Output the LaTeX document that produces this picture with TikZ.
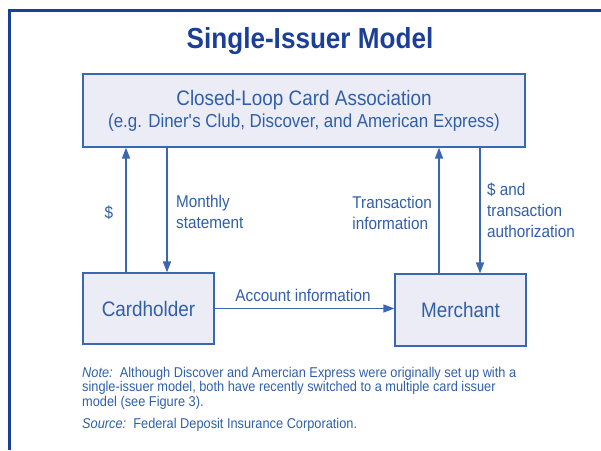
\documentclass[tikz,border=0pt]{standalone}
\usepackage{fontspec}
\setmainfont{Liberation Sans}[FakeStretch=0.9]
\usetikzlibrary{arrows.meta}

\definecolor{frameblue}{HTML}{1B3F98}
\definecolor{textblue}{HTML}{2F5FA9}
\definecolor{lineblue}{HTML}{3A68B0}
\definecolor{boxfill}{HTML}{ECECF6}

\tikzset{
    box/.style={draw=lineblue, fill=boxfill, line width=1.2pt, text=textblue, align=center, inner sep=0pt},
    flow/.style={-{Triangle[length=11pt,width=8pt]}, draw=lineblue, line width=1.5pt},
    lbl/.style={text=textblue, align=left, inner sep=0pt, font=\fontsize{17}{21}\selectfont},
    small/.style={font=\fontsize{14.2}{14.5}\selectfont},
}

\begin{document}
\begin{tikzpicture}[x=1pt, y=-1pt]
\useasboundingbox (0,0) rectangle (601,450);
%\draw[help lines] (0,0) grid[step=50] (601,450);
\begin{scope}
    % frame
    \draw [frameblue, line width=3pt] (9.5,450) -- (9.5,10.5) -- (601,10.5);
    \node [anchor=base, inner sep=0pt, text=frameblue, font=\bfseries\fontsize{29}{32}\selectfont] (title) at (310,48)
        {Single-Issuer Model};

    \node [box, minimum width=442pt, minimum height=73pt, font=\fontsize{18.8}{22}\selectfont] (assoc) at (304,110.5)
        {{\fontsize{21}{22}\selectfont Closed-Loop Card Association}\\(e.g. Diner\textquotesingle s Club, Discover, and American Express)};
    \node [box, minimum width=131pt, minimum height=71pt, font=\fontsize{21}{24}\selectfont] (card) at (148.5,308.5) {Cardholder};
    \node [box, minimum width=131pt, minimum height=72pt, font=\fontsize{21}{24}\selectfont] (merch) at (460.5,310) {Merchant};

    % money and paper flows
    \path ([xshift=-22.5pt]card.north) edge [flow] ([xshift=-22.5pt]card.north |- assoc.south);
    \path ([xshift=18.5pt]card.north |- assoc.south) edge [flow] ([xshift=18.5pt]card.north);
    \path ([xshift=-21.5pt]merch.north) edge [flow] ([xshift=-21.5pt]merch.north |- assoc.south);
    \path ([xshift=19.5pt]merch.north |- assoc.south) edge [flow] ([xshift=19.5pt]merch.north);
    \path (card.east) edge [flow] (card.east -| merch.west);

    \node [lbl] (dollar) at (109,213) {\$};
    \node [lbl, anchor=west] (stmt) at (176,212) {Monthly\\statement};
    \node [lbl, anchor=east] (txinfo) at (432,213) {Transaction\\information};
    \node [lbl, anchor=west] (auth) at (487,210) {\$ and\\transaction\\authorization};
    \node [lbl] (acct) at (303,295) {Account information};

    \node [lbl, small, anchor=north west] (note) at (82,367)
        {\textit{Note:}\ \ Although Discover and Amercian Express were originally set up with a\\
         single-issuer model, both have recently switched to a multiple card issuer\\
         model (see Figure 3).};
    \node [lbl, small, anchor=base west] (source) at (82,428)
        {\textit{Source:}\ \ Federal Deposit Insurance Corporation.};
\end{scope}
\end{tikzpicture}
\end{document}
